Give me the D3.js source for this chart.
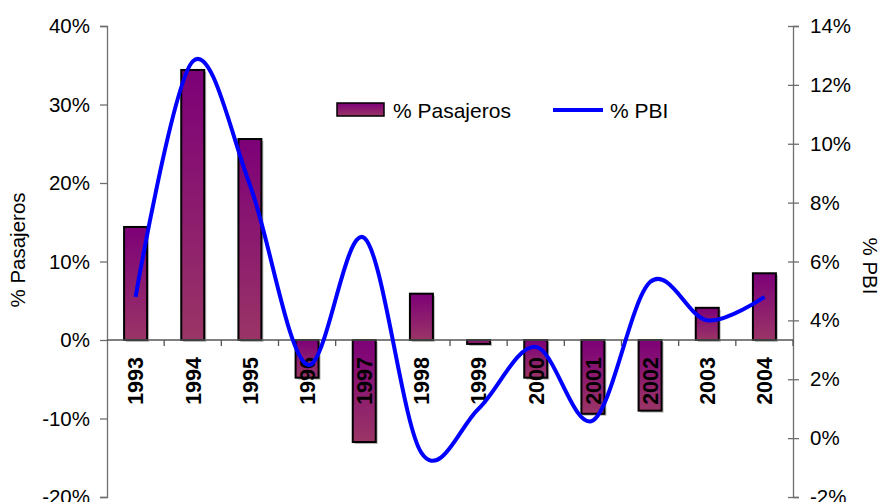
<!DOCTYPE html>
<html>
<head>
<meta charset="utf-8">
<script src="https://cdn.jsdelivr.net/npm/d3@7"></script>
<style>
  html, body { margin: 0; padding: 0; background: #fff; }
  svg { display: block; font-family: "Liberation Sans", Arial, sans-serif; }
</style>
</head>
<body>
<svg id="chart" width="885" height="502"></svg>
<script>
// Annual growth: passengers (bars, left axis) vs GDP (line, right axis)
const years = ["1993","1994","1995","1996","1997","1998","1999","2000","2001","2002","2003","2004"];
const pasajeros = [14.4, 34.4, 25.6, -4.8, -13.0, 5.9, -0.5, -4.8, -9.4, -9.0, 4.1, 8.5];
const pbi = [4.8, 12.8, 8.6, 2.5, 6.8, -0.5, 1.0, 3.1, 0.6, 5.3, 4.0, 4.8];
const leftTicks = [-20, -10, 0, 10, 20, 30, 40];
const rightTicks = [-2, 0, 2, 4, 6, 8, 10, 12, 14];
const seriesNames = ["% Pasajeros", "% PBI"];

const svg = d3.select("#chart");
const plotLeft = 107, plotRight = 793, plotTop = 26, plotBottom = 497;

const x = d3.scaleBand().domain(years).range([plotLeft, plotRight]).padding(0);
const yL = d3.scaleLinear().domain([-20, 40]).range([plotBottom, plotTop]);
const yR = d3.scaleLinear().domain([-2, 14]).range([plotBottom, plotTop]);
const pct = d => d + "%";

// bar fill gradient
const defs = svg.append("defs");
const grad = defs.append("linearGradient").attr("id", "barGrad")
  .attr("x1", 0).attr("y1", 0).attr("x2", 0).attr("y2", 1);
grad.append("stop").attr("offset", "0%").attr("stop-color", "#7d0078");
grad.append("stop").attr("offset", "100%").attr("stop-color", "#9a3566");

const barW = 23;
const zeroY = yL(0);

// bar shadows
svg.append("g").selectAll("rect").data(years).join("rect")
  .attr("x", (d, i) => x(d) + x.bandwidth() / 2 - barW / 2 + 2)
  .attr("y", (d, i) => Math.min(yL(pasajeros[i]), zeroY) + 2)
  .attr("width", barW)
  .attr("height", (d, i) => Math.abs(yL(pasajeros[i]) - zeroY))
  .attr("fill", "#bdbdbd");

// bars
svg.append("g").selectAll("rect").data(years).join("rect")
  .attr("x", (d, i) => x(d) + x.bandwidth() / 2 - barW / 2)
  .attr("y", (d, i) => Math.min(yL(pasajeros[i]), zeroY))
  .attr("width", barW)
  .attr("height", (d, i) => Math.abs(yL(pasajeros[i]) - zeroY))
  .attr("fill", "url(#barGrad)")
  .attr("stroke", "#000")
  .attr("stroke-width", 2);

// left axis
const axL = svg.append("g").attr("transform", `translate(${plotLeft},0)`)
  .call(d3.axisLeft(yL).tickValues(leftTicks).tickFormat(pct).tickSize(7).tickPadding(10));
axL.select(".domain").attr("stroke", "#6e6e6e").attr("stroke-width", 1.3);
axL.selectAll(".tick line").attr("stroke", "#6e6e6e").attr("stroke-width", 1.3);
axL.selectAll("text").attr("font-size", 20.5).attr("fill", "#000").attr("font-family", "Liberation Sans, Arial, sans-serif");

// right axis (ticks cross the line)
const axR = svg.append("g").attr("transform", `translate(${plotRight},0)`)
  .call(d3.axisRight(yR).tickValues(rightTicks).tickFormat(pct).tickSize(6).tickPadding(11));
axR.select(".domain").attr("stroke", "#6e6e6e").attr("stroke-width", 1.3);
axR.selectAll(".tick line").attr("x1", -5).attr("stroke", "#6e6e6e").attr("stroke-width", 1.3);
axR.selectAll("text").attr("font-size", 20.5).attr("fill", "#000").attr("font-family", "Liberation Sans, Arial, sans-serif");

// category axis at zero
const axX = svg.append("g").attr("transform", `translate(0,${zeroY})`);
axX.append("line").attr("x1", plotLeft).attr("x2", plotRight).attr("stroke", "#555").attr("stroke-width", 1.3);
const boundaries = years.map(d => x(d)).concat([plotRight]);
axX.selectAll("line.tk").data(boundaries.slice(1)).join("line").attr("class", "tk")
  .attr("x1", d => d).attr("x2", d => d).attr("y1", 0).attr("y2", 6)
  .attr("stroke", "#555").attr("stroke-width", 1.3);
axX.selectAll("text").data(years).join("text")
  .attr("transform", d => `translate(${x(d) + x.bandwidth() / 2},17) rotate(-90)`)
  .attr("text-anchor", "end")
  .attr("dy", "0.36em")
  .attr("font-size", 21.5)
  .attr("font-weight", "bold")
  .attr("fill", "#000")
  .text(d => d);

// GDP smoothed line
const line = d3.line()
  .x((d, i) => x(years[i]) + x.bandwidth() / 2)
  .y(d => yR(d))
  .curve(d3.curveCardinal.tension(0));
svg.append("path").datum(pbi)
  .attr("d", line)
  .attr("fill", "none")
  .attr("stroke", "#0000ff")
  .attr("stroke-width", 4)
  .attr("stroke-linejoin", "round");

// axis titles
svg.append("text")
  .attr("transform", `translate(18,250) rotate(-90)`)
  .attr("text-anchor", "middle").attr("dy", "0.36em")
  .attr("font-size", 20.5).text(seriesNames[0]);
svg.append("text")
  .attr("transform", `translate(870,266) rotate(90)`)
  .attr("text-anchor", "middle").attr("dy", "0.36em")
  .attr("font-size", 20.5).text(seriesNames[1]);

// legend
const lg = svg.append("g");
lg.append("rect").attr("x", 337).attr("y", 103).attr("width", 47).attr("height", 13)
  .attr("fill", "url(#barGrad)").attr("stroke", "#000").attr("stroke-width", 1.5);
lg.append("text").attr("x", 393).attr("y", 110).attr("dy", "0.36em")
  .attr("font-size", 21).text(seriesNames[0]);
lg.append("line").attr("x1", 553).attr("x2", 603).attr("y1", 110).attr("y2", 110)
  .attr("stroke", "#0000ff").attr("stroke-width", 4);
lg.append("text").attr("x", 610).attr("y", 110).attr("dy", "0.36em")
  .attr("font-size", 21).text(seriesNames[1]);
</script>
</body>
</html>
